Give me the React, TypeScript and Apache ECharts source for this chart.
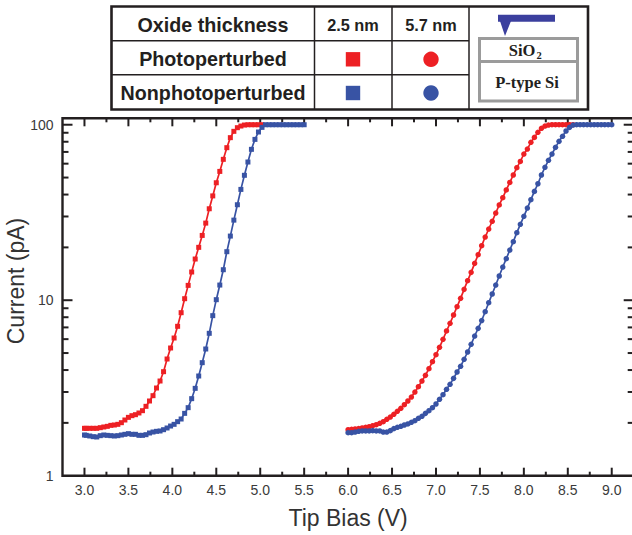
import React, { useEffect, useRef } from "react";
import * as echarts from "echarts";

const INK = "#231f20";
const RED = "#ed2024";
const BLUE = "#3853a4";
const SANS = "'Liberation Sans', Arial, sans-serif";
const SERIF = "'Liberation Serif', 'Times New Roman', serif";

// Tip bias (V) sampled by the 2.5 nm oxide curves
const squareBias = [3.0, 3.02, 3.06, 3.1, 3.14, 3.18, 3.22, 3.26, 3.3, 3.34, 3.38, 3.42, 3.46, 3.5, 3.54, 3.58, 3.62, 3.66, 3.7, 3.74, 3.78, 3.82, 3.86, 3.9, 3.94, 3.98, 4.02, 4.06, 4.1, 4.14, 4.18, 4.22, 4.26, 4.3, 4.34, 4.38, 4.42, 4.46, 4.5, 4.54, 4.58, 4.62, 4.66, 4.7, 4.74, 4.78, 4.82, 4.86, 4.9, 4.94, 4.98, 5.02, 5.06, 5.1, 5.14, 5.18, 5.22, 5.26, 5.3, 5.34, 5.38, 5.42, 5.46, 5.5];
// Tip bias (V) sampled by the 5.7 nm oxide curves
const circleBias = [6.0, 6.04, 6.08, 6.12, 6.16, 6.2, 6.24, 6.28, 6.32, 6.36, 6.4, 6.44, 6.48, 6.52, 6.56, 6.6, 6.64, 6.68, 6.72, 6.76, 6.8, 6.84, 6.88, 6.92, 6.96, 7.0, 7.04, 7.08, 7.12, 7.16, 7.2, 7.24, 7.28, 7.32, 7.36, 7.4, 7.44, 7.48, 7.52, 7.56, 7.6, 7.64, 7.68, 7.72, 7.76, 7.8, 7.84, 7.88, 7.92, 7.96, 8.0, 8.04, 8.08, 8.12, 8.16, 8.2, 8.24, 8.28, 8.32, 8.36, 8.4, 8.44, 8.48, 8.52, 8.56, 8.6, 8.64, 8.68, 8.72, 8.76, 8.8, 8.84, 8.88, 8.92, 8.96, 9.0];

// Current (pA)
const photoThin = [1.862, 1.862, 1.862, 1.862, 1.862, 1.878, 1.895, 1.911, 1.936, 1.945, 1.962, 2.005, 2.077, 2.15, 2.198, 2.227, 2.277, 2.347, 2.485, 2.665, 2.858, 3.16, 3.464, 3.915, 4.624, 5.342, 6.09, 7.1, 8.49, 10.2, 12.15, 14.48, 17.17, 20.01, 23.4, 27.5, 33.2, 39.3, 46.7, 54.2, 63.5, 74, 84.4, 91.7, 96.2, 98.3, 99.6, 100, 100, 100, 100, 100];
const nonPhotoThin = [1.706, 1.698, 1.684, 1.669, 1.662, 1.691, 1.706, 1.698, 1.691, 1.684, 1.691, 1.706, 1.721, 1.736, 1.721, 1.721, 1.698, 1.698, 1.713, 1.751, 1.774, 1.79, 1.798, 1.829, 1.87, 1.919, 1.962, 2.032, 2.104, 2.266, 2.442, 2.748, 3.146, 3.699, 4.407, 5.272, 6.477, 8.166, 10.07, 12.2, 14.92, 18.9, 23.2, 28.6, 35, 42.8, 51.5, 61.3, 72.4, 82.5, 90.9, 96.6, 100, 100, 100, 100, 100, 100, 100, 100, 100, 100, 100, 100];
const photoThick = [1.829, 1.838, 1.846, 1.854, 1.87, 1.886, 1.903, 1.928, 1.953, 1.988, 2.032, 2.095, 2.16, 2.237, 2.327, 2.42, 2.539, 2.665, 2.808, 2.998, 3.216, 3.464, 3.731, 4.073, 4.465, 4.894, 5.39, 5.985, 6.678, 7.384, 8.237, 9.186, 10.25, 11.53, 12.92, 14.41, 16.22, 18.17, 20.45, 22.91, 25.45, 28.15, 31.4, 34.9, 38.4, 42.5, 46.9, 51.7, 56.9, 61.8, 68.1, 72.7, 79.4, 84.7, 90.5, 95.4, 98.3, 99.6, 100, 100, 100, 100, 100, 100, 100];
const nonPhotoThick = [1.759, 1.759, 1.774, 1.79, 1.798, 1.798, 1.798, 1.806, 1.798, 1.798, 1.774, 1.774, 1.806, 1.854, 1.886, 1.911, 1.945, 1.971, 2.014, 2.059, 2.123, 2.179, 2.266, 2.347, 2.442, 2.562, 2.724, 2.896, 3.106, 3.317, 3.587, 3.899, 4.2, 4.604, 5.069, 5.606, 6.252, 6.913, 7.66, 8.6, 9.68, 10.85, 12.2, 13.74, 15.46, 17.25, 19.32, 21.56, 24.26, 27.06, 30.06, 33.5, 37.4, 41.7, 46.1, 51.7, 57.2, 62.7, 68.1, 74.3, 80.4, 85.9, 92.1, 96.6, 99.6, 100, 100, 100, 100, 100, 100, 100, 100, 100, 100, 100];

const xLabels = [3, 3.5, 4, 4.5, 5, 5.5, 6, 6.5, 7, 7.5, 8, 8.5, 9];
const xMinorTicks = [3.25, 3.75, 4.25, 4.75, 5.25, 5.75, 6.25, 6.75, 7.25, 7.75, 8.25, 8.75];
const yLabels = [1, 10, 100];
const yMajorTicks = [10, 100];
const yMinorTicks = [2, 3, 4, 5, 6, 7, 8, 9, 20, 30, 40, 50, 60, 70, 80, 90];

const tableHeaders = ["Oxide thickness", "2.5 nm", "5.7 nm"];
const tableRows = ["Photoperturbed", "Nonphotoperturbed"];

const pairs = (xs: number[], ys: number[]) => ys.map((y, i) => [xs[i], y]);

function curve(name: string, xs: number[], ys: number[], color: string, symbol: string, size: number) {
  return {
    type: "line",
    name,
    data: pairs(xs, ys),
    symbol,
    symbolSize: size,
    showSymbol: true,
    showAllSymbol: true,
    clip: false,
    lineStyle: { color, width: 1.7 },
    itemStyle: { color },
    emphasis: { disabled: true },
  };
}

function tickSeries() {
  const items: any[] = [
    ...xLabels.map((v) => ["x", v, 8]),
    ...xMinorTicks.map((v) => ["x", v, 4]),
    ...yMajorTicks.map((v) => ["y", v, 10]),
    ...yMinorTicks.map((v) => ["y", v, 6]),
  ];
  return {
    type: "custom",
    silent: true,
    clip: false,
    z: 1,
    encode: { x: 1 },
    data: items.map((d, i) => ({ value: [i, d[1], d[2]], axis: d[0] })),
    renderItem: (params: any, api: any) => {
      const d = items[params.dataIndex];
      const r = params.coordSys;
      const style = { stroke: INK, lineWidth: 2 };
      const len = d[2];
      if (d[0] === "x") {
        const x = api.coord([d[1], 10])[0];
        return {
          type: "group",
          children: [
            { type: "line", shape: { x1: x, y1: r.y, x2: x, y2: r.y + len }, style },
            { type: "line", shape: { x1: x, y1: r.y + r.height, x2: x, y2: r.y + r.height - len }, style },
          ],
        };
      }
      const y = api.coord([6, d[1]])[1];
      return {
        type: "group",
        children: [
          { type: "line", shape: { x1: r.x, y1: y, x2: r.x + len, y2: y }, style },
          { type: "line", shape: { x1: r.x + r.width, y1: y, x2: r.x + r.width - len, y2: y }, style },
        ],
      };
    },
  };
}

function legendTable() {
  const ln = (x1: number, y1: number, x2: number, y2: number, w = 1.5, c = INK) => ({
    type: "line",
    shape: { x1, y1, x2, y2 },
    style: { stroke: c, lineWidth: w },
  });
  const txt = (text: string, x: number, y: number, size: number, font = SANS, color = INK, align = "center") => ({
    type: "text",
    x,
    y,
    style: { text, x: 0, y: 0, fill: color, font: `bold ${size}px ${font}`, textAlign: align, textVerticalAlign: "middle" },
  });
  const square = (cx: number, cy: number, c: string) => ({
    type: "rect",
    shape: { x: cx - 7.2, y: cy - 7.2, width: 14.4, height: 14.4 },
    style: { fill: c },
  });
  const dot = (cx: number, cy: number, c: string) => ({
    type: "circle",
    shape: { cx, cy, r: 7.7 },
    style: { fill: c },
  });
  return [
    { type: "rect", shape: { x: 111.5, y: 6.5, width: 476.5, height: 103 }, style: { fill: "#fff", stroke: INK, lineWidth: 2.6 } },
    ln(112, 40.7, 469, 40.7),
    ln(112, 74.8, 469, 74.8),
    ln(314.5, 7, 314.5, 109),
    ln(392, 7, 392, 109),
    ln(469, 7, 469, 109),
    txt(tableHeaders[0], 213, 24.5, 19.7),
    txt(tableHeaders[1], 353, 24.5, 16.3),
    txt(tableHeaders[2], 431, 24.5, 16.3),
    txt(tableRows[0], 213, 59, 19.7),
    txt(tableRows[1], 213, 93, 19.7),
    square(353, 59.3, RED),
    dot(431, 59.3, RED),
    square(353, 93, BLUE),
    dot(431, 93, BLUE),
    { type: "rect", shape: { x: 498, y: 14.7, width: 57, height: 7 }, style: { fill: "#3b3f9e" } },
    { type: "polygon", shape: { points: [[500, 21], [511, 21], [505, 36]] }, style: { fill: "#3b3f9e" } },
    { type: "rect", shape: { x: 479.5, y: 38.5, width: 98, height: 62.5 }, style: { fill: "#fff", stroke: "#9b9b9b", lineWidth: 3 } },
    ln(479.5, 61.5, 577.5, 61.5, 3, "#9b9b9b"),
    txt("SiO", 522, 50, 16.5, SERIF),
    txt("2", 539, 55, 10.5, SERIF),
    txt("P-type Si", 527, 82, 16.5, SERIF),
  ];
}

export default function App() {
  const ref = useRef<HTMLDivElement>(null);
  useEffect(() => {
    document.body.style.margin = "0";
    const chart = echarts.init(ref.current!, null, { renderer: "svg" });
    chart.setOption({
      animation: false,
      backgroundColor: "#fff",
      textStyle: { fontFamily: SANS },
      grid: {
        show: true,
        left: 62.5,
        top: 118.3,
        width: 571.2,
        height: 357.4,
        outerBoundsMode: "none",
        containLabel: false,
        borderColor: INK,
        borderWidth: 2.4,
        backgroundColor: "transparent",
      },
      xAxis: {
        type: "value",
        min: 2.75,
        max: 9.25,
        interval: 0.25,
        name: "Tip Bias (V)",
        nameLocation: "middle",
        nameGap: 31,
        nameMoveOverlap: false,
        nameTextStyle: { fontSize: 23, color: "#333", fontFamily: SANS },
        axisLine: { show: false },
        axisTick: { show: false },
        splitLine: { show: false },
        axisLabel: {
          show: true,
          margin: 7,
          fontSize: 14,
          color: "#3a3a3a",
          fontFamily: SANS,
          customValues: xLabels,
          formatter: (v: number) => v.toFixed(1),
        },
      },
      yAxis: {
        type: "log",
        logBase: 10,
        min: 1,
        max: 108.8,
        name: "Current (pA)",
        nameLocation: "middle",
        nameGap: 35,
        nameMoveOverlap: false,
        nameTextStyle: { fontSize: 23, color: "#333", fontFamily: SANS, padding: [0, 0, 0, 32] },
        axisLine: { show: false },
        axisTick: { show: false },
        splitLine: { show: false },
        minorTick: { show: false },
        axisLabel: {
          margin: 9,
          fontSize: 14,
          color: "#3a3a3a",
          fontFamily: SANS,
          formatter: (v: number) => (yLabels.includes(Math.round(v * 1000) / 1000) ? String(Math.round(v)) : ""),
        },
      },
      graphic: { elements: legendTable() },
      series: [
        tickSeries(),
        curve("Photoperturbed 2.5 nm", squareBias, photoThin, RED, "rect", 5),
        curve("Photoperturbed 5.7 nm", circleBias, photoThick, RED, "circle", 5.5),
        curve("Nonphotoperturbed 2.5 nm", squareBias, nonPhotoThin, BLUE, "rect", 5),
        curve("Nonphotoperturbed 5.7 nm", circleBias, nonPhotoThick, BLUE, "circle", 5.5),
      ],
    });
    return () => chart.dispose();
  }, []);
  return <div ref={ref} style={{ width: 632, height: 535, position: "absolute", left: 0, top: 0, overflow: "hidden" }} />;
}
